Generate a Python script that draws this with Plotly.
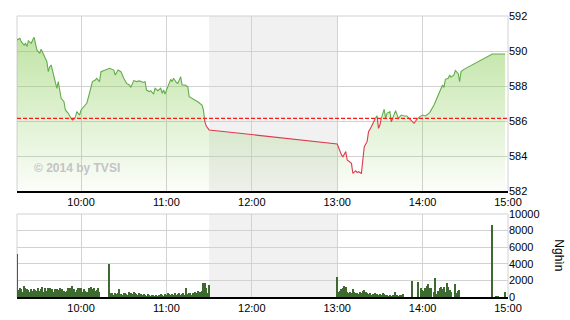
import plotly.graph_objects as go
import pandas as pd

DAY = "2014-01-01 "

# ---------------- data ----------------
price_times = [
    "09:15", "09:17", "09:18", "09:20", "09:21", "09:22", "09:23", "09:25", "09:26", "09:27",
    "09:29", "09:31", "09:32", "09:34", "09:36", "09:37", "09:38", "09:39", "09:40", "09:42",
    "09:43", "09:44", "09:45", "09:46", "09:48", "09:49", "09:51", "09:53", "09:54", "09:56",
    "09:57", "09:59", "10:00", "10:02", "10:04", "10:05", "10:07", "10:08", "10:10", "10:11",
    "10:13", "10:14", "10:17", "10:20", "10:23", "10:24", "10:26", "10:28", "10:30", "10:32",
    "10:34", "10:35", "10:37", "10:39", "10:41", "10:44", "10:45", "10:46", "10:48", "10:49",
    "10:51", "10:52", "10:54", "10:56", "10:57", "10:58", "10:59", "11:00", "11:02", "11:03",
    "11:04", "11:05", "11:07", "11:08", "11:10", "11:11", "11:13", "11:15", "11:16", "11:18",
    "11:20", "11:22", "11:25", "11:26", "11:27", "11:28", "11:29", "11:30",
    "13:00", "13:01", "13:03", "13:04", "13:06", "13:07", "13:08", "13:10", "13:11", "13:13",
    "13:14", "13:15", "13:17", "13:19", "13:21", "13:22", "13:24", "13:26", "13:28", "13:29",
    "13:30", "13:31", "13:33", "13:34", "13:35", "13:37", "13:38", "13:40", "13:41", "13:43",
    "13:45", "13:47", "13:49", "13:51", "13:54", "13:56", "13:58", "14:00", "14:02", "14:05",
    "14:07", "14:08", "14:09", "14:11", "14:12", "14:14", "14:15", "14:16", "14:18", "14:19",
    "14:20", "14:22", "14:23", "14:25", "14:26", "14:27", "14:29", "14:49", "14:58",
]
price_values = [
    590.63, 590.72, 590.53, 590.34, 590.44, 590.25, 590.59, 590.44, 590.63, 590.78,
    590.06, 589.87, 590.10, 589.77, 589.39, 588.82, 589.10, 589.20, 588.82, 588.15,
    587.87, 588.25, 587.77, 587.30, 587.10, 586.63, 586.44, 586.15, 586.06, 586.21,
    586.53, 586.34, 586.63, 586.82, 587.01, 587.30, 588.06, 588.25, 588.34, 588.44,
    588.25, 588.82, 588.91, 589.01, 588.91, 588.63, 588.91, 588.82, 588.44, 588.15,
    588.06, 587.92, 588.31, 588.25, 588.29, 588.20, 588.25, 587.77, 587.68, 587.73,
    587.54, 587.87, 587.73, 587.87, 587.58, 587.77, 587.54, 587.77, 588.25, 588.38,
    588.25, 588.44, 588.20, 588.15, 588.53, 588.06, 588.06, 587.96, 587.39, 587.30,
    587.20, 587.10, 586.91, 586.63, 585.96, 585.71, 585.58, 585.49,
    584.69, 584.44, 584.06, 583.96, 584.25, 583.77, 583.72, 583.58, 583.01, 583.15,
    583.05, 583.10, 583.01, 584.53, 584.82, 585.39, 585.67, 586.06, 586.29, 585.58,
    585.77, 586.15, 586.67, 586.15, 586.44, 586.53, 585.96, 586.34, 586.59, 586.15,
    586.34, 586.29, 586.29, 586.10, 585.87, 586.10, 586.25, 586.34, 586.29, 586.48,
    586.72, 586.91, 587.10, 587.49, 587.77, 588.06, 587.92, 588.38, 588.44, 588.63,
    588.50, 588.63, 588.88, 588.72, 588.25, 588.82, 588.95, 589.83, 589.83,
]
ref_price = 586.15

# volume (thousand shares), one bar per minute
vol_am_start = "09:15"
vol_am = [
    5200, 850, 1050, 930, 650, 1330, 1050, 930, 850, 650, 930, 730, 970, 850, 730, 1050,
    730, 930, 1250, 650, 1050, 730, 1130, 1050, 850, 970, 650, 930, 970, 850, 1050, 930,
    930, 730, 600, 730, 1050, 1050, 1050, 1330, 970, 650, 850, 1050, 1130, 1050, 650, 930,
    730, 650, 650, 1130, 1250, 930, 1050, 730, 850, 1130, 650,
    None, None, None, None, None, None, 4000,
    445, 525, 240, 445, 365, 445, 970, 320, 240, 525, 445, 365, 240, 565, 445, 320,
    645, 445, 320, 240, 445, 320, 240, 320, 240, 160, 320, 240, 160, 240, 240, 160,
    240, 160, 240, 320, 240, 160, 320, 240, 445, 320, 240, 365, 240, 445, 240, 320,
    445, 240, 320, 445, 240, 1130, 320, 445, 525, 240, 445, 645, 445, 725, 445, 645,
    725, 1650, 1740, 1050, 525, 1450,
]
vol_pm_start = "13:00"
vol_pm = [
    2460, 650, 730, 930, 1050, 1330, 1250, 650, 525, 650, 445, 930, 650, 445, 525, 365,
    650, 525, 725, 850, 650, 445, 320, 445, 240, 365, 240, 445, 365, 240, 320, 240,
    445, 320, 240, 240, 160, 240, 160, 240, 160, 645, 240, 160, 240, 240, 365,
    None, None, None, None, None, None, 1980, None, None, None, 1860, None,
    1130, 850, 730, 1050, 1330, 1580, 1050, 1050, None, 650, 2340, 320, 730, 1050, 1250,
    970, 1250, 650, 1700, 1250, 810, 570, None, None, 1540, 525, 730, 890,
]
vol_atc_times = ["14:49", "14:52", "14:53", "14:58"]
vol_atc = [8730, 120, 120, 570]

tick_times = ["10:00", "11:00", "12:00", "13:00", "14:00", "15:00"]
break_start, break_end = "11:30", "13:00"

# ---------------- prep ----------------
px = pd.to_datetime([DAY + s for s in price_times])
vx = list(pd.date_range(DAY + vol_am_start, periods=len(vol_am), freq="min")) + \
     list(pd.date_range(DAY + vol_pm_start, periods=len(vol_pm), freq="min")) + \
     list(pd.to_datetime([DAY + s for s in vol_atc_times]))
vy = vol_am + vol_pm + vol_atc

GREEN = "#64ad4c"
RED = "#dc3c50"

# split the price line into green (>= ref) / red (< ref) runs
runs = []
ts = px.asi8
for i in range(len(price_values) - 1):
    a = price_values[i] - ref_price
    b = price_values[i + 1] - ref_price
    p0 = (px[i], price_values[i])
    p1 = (px[i + 1], price_values[i + 1])
    segs = []
    if (a >= 0 and b >= 0) or (a < 0 and b < 0):
        segs.append((GREEN if a >= 0 else RED, p0, p1))
    else:
        f = a / (a - b)
        tc = pd.Timestamp(int(ts[i] + f * (ts[i + 1] - ts[i])))
        pc = (tc, ref_price)
        segs.append((GREEN if a >= 0 else RED, p0, pc))
        segs.append((GREEN if b >= 0 else RED, pc, p1))
    for c, q0, q1 in segs:
        if runs and runs[-1][0] == c:
            runs[-1][1].append(q1)
        else:
            runs.append([c, [q0, q1]])

line_xy = {GREEN: ([], []), RED: ([], [])}
for c, pts in runs:
    xs, ys = line_xy[c]
    if xs:
        xs.append(None)
        ys.append(None)
    xs.extend(p[0] for p in pts)
    ys.extend(p[1] for p in pts)

fig = go.Figure()

fig.add_trace(go.Scatter(
    x=px, y=price_values, mode="lines", line=dict(width=0),
    fill="tozeroy",
    fillgradient=dict(type="vertical", start=582, stop=591,
                      colorscale=[[0, "rgba(140,205,90,0.03)"], [1, "rgba(140,205,90,0.55)"]]),
    hoverinfo="skip", showlegend=False, xaxis="x", yaxis="y",
))
for c in (GREEN, RED):
    fig.add_trace(go.Scatter(
        x=line_xy[c][0], y=line_xy[c][1], mode="lines",
        line=dict(color=c, width=1.1), showlegend=False, xaxis="x", yaxis="y",
        connectgaps=False,
    ))

fig.add_trace(go.Bar(
    x=vx, y=vy, marker=dict(color="#3d6a2f", line=dict(width=0)),
    width=55000, showlegend=False, xaxis="x2", yaxis="y2",
))

xr = [DAY + "09:15", DAY + "15:00"]
FONT = dict(family="Liberation Sans, Arial, sans-serif", size=11, color="#000000")
GRID = "#d2d2d2"

xcommon = dict(
    type="date", range=xr, tickformat="%H:%M",
    tickvals=[DAY + s for s in tick_times], ticktext=tick_times,
    showgrid=True, gridcolor=GRID, gridwidth=1,
    showline=True, linecolor="#000000", linewidth=1.5,
    ticks="", tickfont=FONT, zeroline=False, fixedrange=True, automargin=False,
)
fig.update_layout(
    width=570, height=320,
    margin=dict(l=17, r=62, t=16, b=23, autoexpand=False),
    paper_bgcolor="white", plot_bgcolor="white",
    bargap=0,
    xaxis=dict(domain=[0, 1], anchor="y", **xcommon),
    xaxis2=dict(domain=[0, 1], anchor="y2", matches="x", **xcommon),
    yaxis=dict(domain=[0.3772, 1], range=[582, 592], dtick=2, tick0=582,
               side="right", showgrid=True, gridcolor=GRID, zeroline=False,
               ticks="", tickfont=FONT, showline=False, automargin=False),
    yaxis2=dict(domain=[0, 0.2954], range=[0, 10000], dtick=2000, tick0=0,
                tickformat="d",
                side="right", showgrid=True, gridcolor=GRID, zeroline=False,
                ticks="", tickfont=FONT, showline=False, automargin=False),
    font=FONT,
)

shapes = []
for yd in ("y domain", "y2 domain"):
    shapes.append(dict(type="rect", xref="x", yref=yd,
                       x0=DAY + break_start, x1=DAY + break_end, y0=0, y1=1,
                       fillcolor="#f1f1f1", line=dict(width=0), layer="below"))
    for xe in (0, 1):
        shapes.append(dict(type="line", xref="paper", yref=yd, x0=xe, x1=xe, y0=0, y1=1,
                           line=dict(color=GRID, width=1), layer="between"))
    shapes.append(dict(type="line", xref="paper", yref=yd, x0=0, x1=1, y0=1, y1=1,
                       line=dict(color=GRID, width=1), layer="between"))
shapes.append(dict(type="line", xref="paper", yref="y", x0=0, x1=1,
                   y0=ref_price, y1=ref_price,
                   line=dict(color="#ff1a1a", width=1.2, dash="4px,2px"), layer="above"))
fig.update_layout(shapes=shapes)

fig.add_annotation(text="© 2014 by TVSI", xref="paper", yref="paper",
                   x=0.03, y=0.459, xanchor="left", yanchor="middle", showarrow=False,
                   font=dict(family="Liberation Sans, Arial, sans-serif", size=12,
                             color="#c4c4c4", weight="bold"))
fig.add_annotation(text="Nghìn", xref="paper", yref="paper",
                   x=1.105, y=0.15, xanchor="center", yanchor="middle", showarrow=False,
                   textangle=90, font=dict(family="Liberation Sans, Arial, sans-serif",
                                           size=12, color="#000000"))

fig.write_html("out.html")
